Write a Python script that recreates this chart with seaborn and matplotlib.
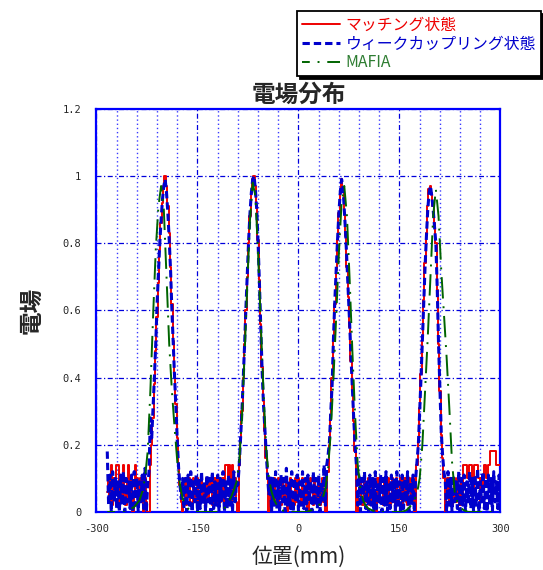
import numpy as np
import pandas as pd
import seaborn as sns
import matplotlib.pyplot as plt

# ---- data (field values in hundredths, sampled every 2 mm from -284 mm) ----
pos_start = -284
pos_step = 2

# blue : weak-coupling state
blue_noise_a = [18, 2, 11, 0, 12, 3, 10, 1, 9, 0, 11, 2, 12, 0, 10, 3, 9, 1, 11, 0,
                12, 2, 10, 0, 9, 3, 11, 1, 13, 0]
blue_peak_1 = [8, 12, 28, 22, 31, 40, 50, 62, 71, 80, 87, 93, 97, 99, 95, 89, 81, 72, 60, 50,
               40, 31, 21, 13, 8, 4, 10]
blue_noise_b = [1, 10, 0, 11, 2, 12, 0, 9, 3, 11, 0, 10, 1, 12, 2, 9, 0, 11, 3, 10,
                0, 12, 1, 9, 2, 11, 0, 10, 3, 12, 0, 9, 1, 11, 2, 10, 0, 12, 3, 9]
blue_peak_2 = [8, 14, 22, 30, 40, 50, 61, 71, 81, 89, 95, 99, 100, 96, 90, 80, 68, 55, 42, 32,
               25, 18, 11, 5]
blue_noise_c = [11, 0, 10, 2, 12, 1, 9, 0, 11, 3, 10, 0, 13, 2, 9, 1, 12, 0, 10, 3,
                11, 0, 9, 2, 12, 1, 10, 0, 11, 3, 9, 0, 12, 2, 10, 1, 11, 0, 9, 3, 14, 2]
blue_peak_3 = [14, 17, 21, 30, 38, 52, 63, 72, 81, 89, 95, 99, 97, 90, 83, 74, 65, 56, 46, 37,
               28, 20, 14]
blue_noise_d = [2, 11, 0, 10, 3, 12, 1, 9, 0, 11, 2, 10, 0, 12, 1, 9, 3, 11, 0, 10,
                2, 12, 0, 9, 1, 11, 3, 10, 0, 12, 2, 9, 0, 11, 1, 10, 3, 12, 0, 9, 2, 11, 0]
blue_peak_4 = [10, 15, 20, 30, 40, 51, 62, 73, 82, 90, 95, 97, 94, 90, 85, 80, 67, 50, 37, 24,
               17, 12, 9]
blue_noise_e = [0, 12, 2, 10, 0, 11, 3, 9, 1, 12, 0, 10, 2, 11, 0, 9, 3, 12, 1, 10,
                0, 11, 2, 13, 0, 9, 3, 12, 1, 10, 0, 11, 2, 10, 0, 12, 3, 9, 1, 11, 0]

# red : matching state
red_noise_a = [6, 10, 3, 14, 2, 10, 6, 14, 14, 3, 10, 3, 14, 6, 2, 10, 14, 3, 10, 0,
               6, 14, 10, 2, 3, 10, 6, 0, 10, 3]
red_peak_1 = [0, 0, 14, 20, 28, 38, 48, 58, 68, 78, 86, 92, 97, 100, 97, 91, 83, 73, 62, 51,
              41, 32, 22, 14, 8, 3, 0]
red_noise_b = [3, 10, 2, 6, 10, 3, 2, 10, 6, 3, 10, 2, 6, 10, 3, 6, 0, 10, 3, 6,
               10, 2, 3, 10, 6, 2, 10, 3, 6, 10, 2, 14, 14, 10, 14, 3, 14, 6, 10, 3]
red_peak_2 = [0, 14, 21, 30, 40, 50, 60, 70, 80, 88, 95, 99, 100, 97, 91, 81, 69, 56, 43, 33,
              24, 16, 10, 0]
red_noise_c = [10, 3, 6, 10, 2, 6, 10, 3, 2, 10, 6, 3, 10, 0, 6, 10, 3, 6, 2, 10,
               3, 10, 6, 2, 10, 3, 6, 10, 0, 3, 10, 6, 2, 10, 3, 6, 10, 2, 6, 10, 3, 0]
red_peak_3 = [0, 12, 20, 29, 40, 51, 62, 72, 81, 89, 95, 99, 96, 89, 82, 73, 64, 55, 45, 36,
              27, 18, 0]
red_noise_d = [0, 6, 10, 3, 2, 10, 6, 3, 10, 2, 6, 10, 3, 6, 0, 10, 3, 10, 6, 2,
               10, 3, 6, 10, 2, 3, 10, 6, 0, 10, 3, 6, 10, 2, 6, 10, 3, 2, 10, 6, 3, 10, 0]
red_peak_4 = [0, 14, 21, 31, 41, 52, 63, 74, 83, 91, 96, 97, 95, 91, 86, 80, 66, 50, 36, 23,
              16, 10, 0]
red_noise_e = [6, 10, 3, 10, 2, 6, 10, 3, 10, 6, 2, 10, 3, 14, 14, 14, 10, 14, 14, 10,
               6, 14, 14, 14, 10, 3, 10, 6, 14, 14, 10, 14, 14, 18, 18, 18, 18, 14, 14, 14, 14]

# green : MAFIA, sampled every 4 mm from -284 mm
mafia_step = 4
mafia_field = [0, 0, 0, 0, 0, 0, 0, 0,
               0.005, 0.01, 0.015, 0.025, 0.035, 0.06, 0.10, 0.18, 0.36, 0.58, 0.78, 0.91, 0.97,
               0.90, 0.70, 0.50, 0.36, 0.25, 0.15, 0.08, 0.04, 0.02, 0.01, 0.005, 0,
               0, 0, 0, 0, 0, 0, 0, 0, 0,
               0.003, 0.008, 0.015, 0.03, 0.045, 0.065, 0.09, 0.15, 0.28, 0.47, 0.68, 0.87, 0.98,
               0.94, 0.77, 0.56, 0.36, 0.19, 0.10, 0.06, 0.035, 0.02, 0.01, 0.005, 0,
               0, 0, 0, 0, 0, 0, 0, 0,
               0.003, 0.006, 0.01, 0.016, 0.024, 0.04, 0.07, 0.13, 0.24, 0.40, 0.58, 0.77, 0.92,
               0.97, 0.88, 0.69, 0.48, 0.29, 0.14, 0.07, 0.035, 0.018, 0.01, 0.006, 0.003, 0,
               0, 0, 0, 0, 0, 0, 0, 0, 0,
               0.002, 0.005, 0.012, 0.022, 0.035, 0.055, 0.10, 0.20, 0.36, 0.52, 0.70, 0.88, 0.96,
               0.88, 0.72, 0.59, 0.46, 0.31, 0.15, 0.06, 0.03, 0.015, 0.007, 0.003, 0,
               0, 0, 0, 0, 0, 0, 0, 0, 0, 0, 0, 0]

x_ticks = [-300, -150, 0, 150, 300]
x_tick_labels = ["-300", "-150", "0", "150", "300"]
y_ticks = [0, 0.2, 0.4, 0.6, 0.8, 1.0, 1.2]
y_tick_labels = ["0", "0.2", "0.4", "0.6", "0.8", "1", "1.2"]

blue_field = np.array(blue_noise_a + blue_peak_1 + blue_noise_b + blue_peak_2 + blue_noise_c
                      + blue_peak_3 + blue_noise_d + blue_peak_4 + blue_noise_e) / 100
red_field = np.array(red_noise_a + red_peak_1 + red_noise_b + red_peak_2 + red_noise_c
                     + red_peak_3 + red_noise_d + red_peak_4 + red_noise_e) / 100

df_red = pd.DataFrame({"pos": pos_start + pos_step * np.arange(len(red_field)), "field": red_field})
df_blue = pd.DataFrame({"pos": pos_start + pos_step * np.arange(len(blue_field)), "field": blue_field})
df_mafia = pd.DataFrame({"pos": pos_start + mafia_step * np.arange(len(mafia_field)), "field": mafia_field})

sns.set_theme(style="white")
plt.rcParams['font.family'] = ['Noto Sans CJK JP', 'DejaVu Sans']

fig = plt.figure(figsize=(5.43, 5.70), dpi=100)
ax = fig.add_axes([0.1777, 0.1018, 0.744, 0.7075])

sns.lineplot(data=df_red, x="pos", y="field", ax=ax, color="#ee0000", linewidth=1.4,
             drawstyle="steps-mid", estimator=None, sort=False, label="マッチング状態", zorder=3)
sns.lineplot(data=df_blue, x="pos", y="field", ax=ax, color="#0000cc", linewidth=2.2,
             linestyle=(0, (2.4, 1.3)), estimator=None, sort=False, label="ウィークカップリング状態", zorder=4)
sns.lineplot(data=df_mafia, x="pos", y="field", ax=ax, color="#006400", linewidth=1.4,
             linestyle=(7, (11, 4, 1, 4)), estimator=None, sort=False, label="MAFIA", zorder=5)

ax.set_xlim(-300, 300)
ax.set_ylim(0, 1.2)
ax.set_xticks(x_ticks)
ax.set_xticklabels(x_tick_labels, family="DejaVu Sans Mono", fontsize=7.5)
ax.set_xticks(np.arange(-300, 301, 30), minor=True)
ax.set_yticks(y_ticks)
ax.set_yticklabels(y_tick_labels, family="DejaVu Sans Mono", fontsize=7.5)
ax.tick_params(which="both", length=0)
ax.tick_params(axis="x", pad=9)
ax.tick_params(axis="y", pad=11)

ax.grid(which="minor", axis="x", color="#3a3aff", linestyle=(0, (1, 2)), linewidth=1.0)
ax.grid(which="major", axis="both", color="#0000dd", linestyle=(0, (4, 2, 1, 2)), linewidth=0.9)
for s in ax.spines.values():
    s.set_color("#0000ff")
    s.set_linewidth(1.6)

ax.set_title("電場分布", fontsize=17, fontweight="bold", pad=5)
ax.set_xlabel("位置(mm)", fontsize=15, labelpad=8)
ax.set_ylabel("電場", fontsize=17, fontweight="bold", labelpad=14)

handles, labels = ax.get_legend_handles_labels()
ax.get_legend().remove()
leg = fig.legend(handles, labels, loc="upper right", bbox_to_anchor=(0.997, 0.98),
                 borderaxespad=0, frameon=True, fancybox=False,
                 shadow={"color": "black", "alpha": 1},
                 edgecolor="black", framealpha=1, fontsize=11.4, handlelength=2.4,
                 handletextpad=0.35, labelspacing=0.12, borderpad=0.32)
leg.get_frame().set_linewidth(1.3)
for txt, col in zip(leg.get_texts(), ["#ee0000", "#0000cc", "#2e7d32"]):
    txt.set_color(col)

plt.savefig("out.png", dpi=100)
